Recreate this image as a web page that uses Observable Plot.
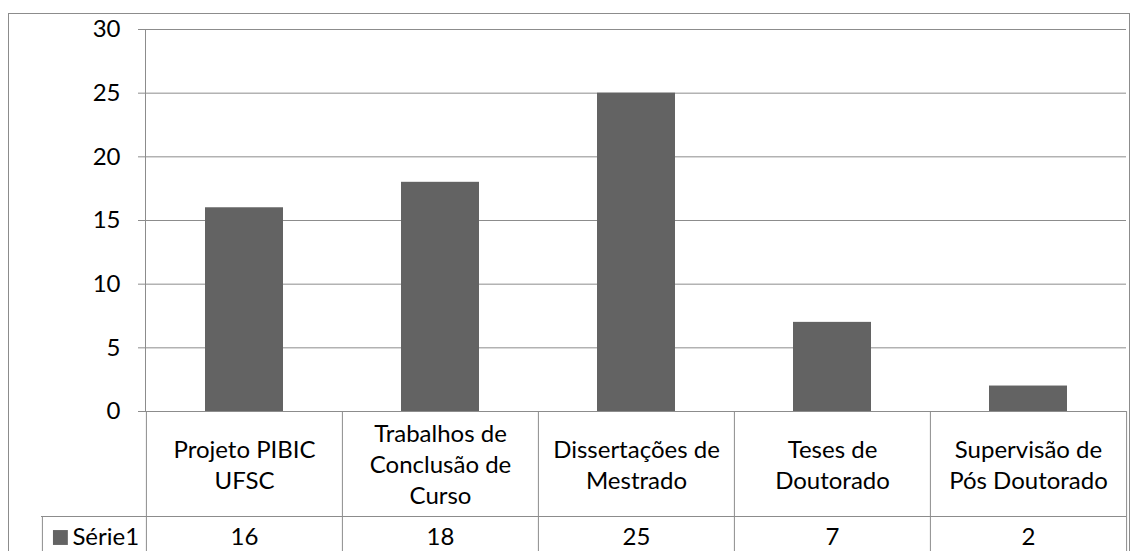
<!DOCTYPE html>
<html>
<head>
<meta charset="utf-8">
<script src="https://cdn.jsdelivr.net/npm/d3@7"></script>
<script src="https://cdn.jsdelivr.net/npm/@observablehq/plot@0.6"></script>
<style>
  html, body { margin: 0; padding: 0; background: #fff; }
  #wrap { position: relative; width: 1131px; height: 551px; overflow: hidden; }
  #border { position: absolute; left: 8px; top: 13px; width: 1122px; height: 600px; border: 1px solid #8c8c8c; box-sizing: border-box; pointer-events: none; }
  #chart { position: absolute; left: 0; top: 0; }
</style>
</head>
<body>
<div id="wrap"><div id="chart"></div><div id="border"></div></div>
<script>
const categories = ["Projeto PIBIC UFSC", "Trabalhos de Conclusão de Curso", "Dissertações de Mestrado", "Teses de Doutorado", "Supervisão de Pós Doutorado"];
const categoryLabels = ["Projeto PIBIC\nUFSC", "Trabalhos de\nConclusão de\nCurso", "Dissertações de\nMestrado", "Teses de\nDoutorado", "Supervisão de\nPós Doutorado"];
const values = [16, 18, 25, 7, 2];
const seriesName = "Série1";
const yTicks = [0, 5, 10, 15, 20, 25, 30];

const data = categories.map((c, i) => ({cat: c, label: categoryLabels[i], value: values[i]}));

const W = 1131, H = 551, ML = 145, MR = 5, MT = 29, MB = 140;
const bw = (W - ML - MR) / categories.length;
const font = "Lato, 'Open Sans', sans-serif";
const fs = 24;
const lineCol = "#8c8c8c";
const barCol = "#636363";
const plotH = H - MT - MB;
const row1 = 105;   // height of category row in table

const plot = Plot.plot({
  width: W, height: H,
  marginLeft: ML, marginRight: MR, marginTop: MT, marginBottom: MB,
  style: {fontFamily: font, fontSize: fs + "px", color: "#000", background: "#fff", overflow: "visible"},
  x: {type: "band", domain: categories, paddingInner: 0, paddingOuter: 0, axis: null},
  y: {domain: [0, 30], ticks: yTicks, label: null},
  marks: [
    Plot.gridY(yTicks, {stroke: lineCol, strokeOpacity: 1}),
    Plot.axisY(yTicks, {tickSize: 7, tickPadding: 18, stroke: lineCol, strokeOpacity: 1, fontSize: fs, fill: "#000", label: null}),
    Plot.frame({anchor: "left", stroke: lineCol, strokeOpacity: 1}),
    Plot.barY(data, {x: "cat", y: "value", fill: barCol, insetLeft: 59, insetRight: 59}),
    // table vertical lines (left edge of each cell)
    Plot.ruleX(data, {x: "cat", dx: -bw / 2, stroke: lineCol, insetTop: plotH, insetBottom: -MB}),
    // right edge of table
    Plot.ruleX([data[data.length - 1]], {x: "cat", dx: bw / 2, stroke: lineCol, insetTop: plotH, insetBottom: -MB}),
    // left edge of series label cell
    Plot.ruleX([data[0]], {x: "cat", dx: -bw / 2 - 104, stroke: lineCol, insetTop: plotH + row1, insetBottom: -MB}),
    // horizontal separator between rows
    Plot.ruleY([0], {dy: row1, stroke: lineCol, insetLeft: -104}),
    // category labels
    Plot.text(data, {x: "cat", y: () => 0, text: "label", dy: 52, lineAnchor: "middle", lineHeight: 1.29, fontSize: fs, fill: "#000"}),
    // values row
    Plot.text(data, {x: "cat", y: () => 0, text: d => String(d.value), dy: row1 + 21, lineAnchor: "middle", fontSize: fs, fill: "#000"}),
    // series legend
    Plot.dot([data[0]], {x: "cat", y: () => 0, dx: -bw / 2 - 86, dy: row1 + 21, symbol: "square", r: 8.4, fill: barCol, stroke: null}),
    Plot.text([data[0]], {x: "cat", y: () => 0, text: () => seriesName, dx: -bw / 2 - 74, dy: row1 + 21, textAnchor: "start", lineAnchor: "middle", fontSize: fs, fill: "#000"})
  ]
});
document.getElementById("chart").appendChild(plot);
</script>
</body>
</html>
